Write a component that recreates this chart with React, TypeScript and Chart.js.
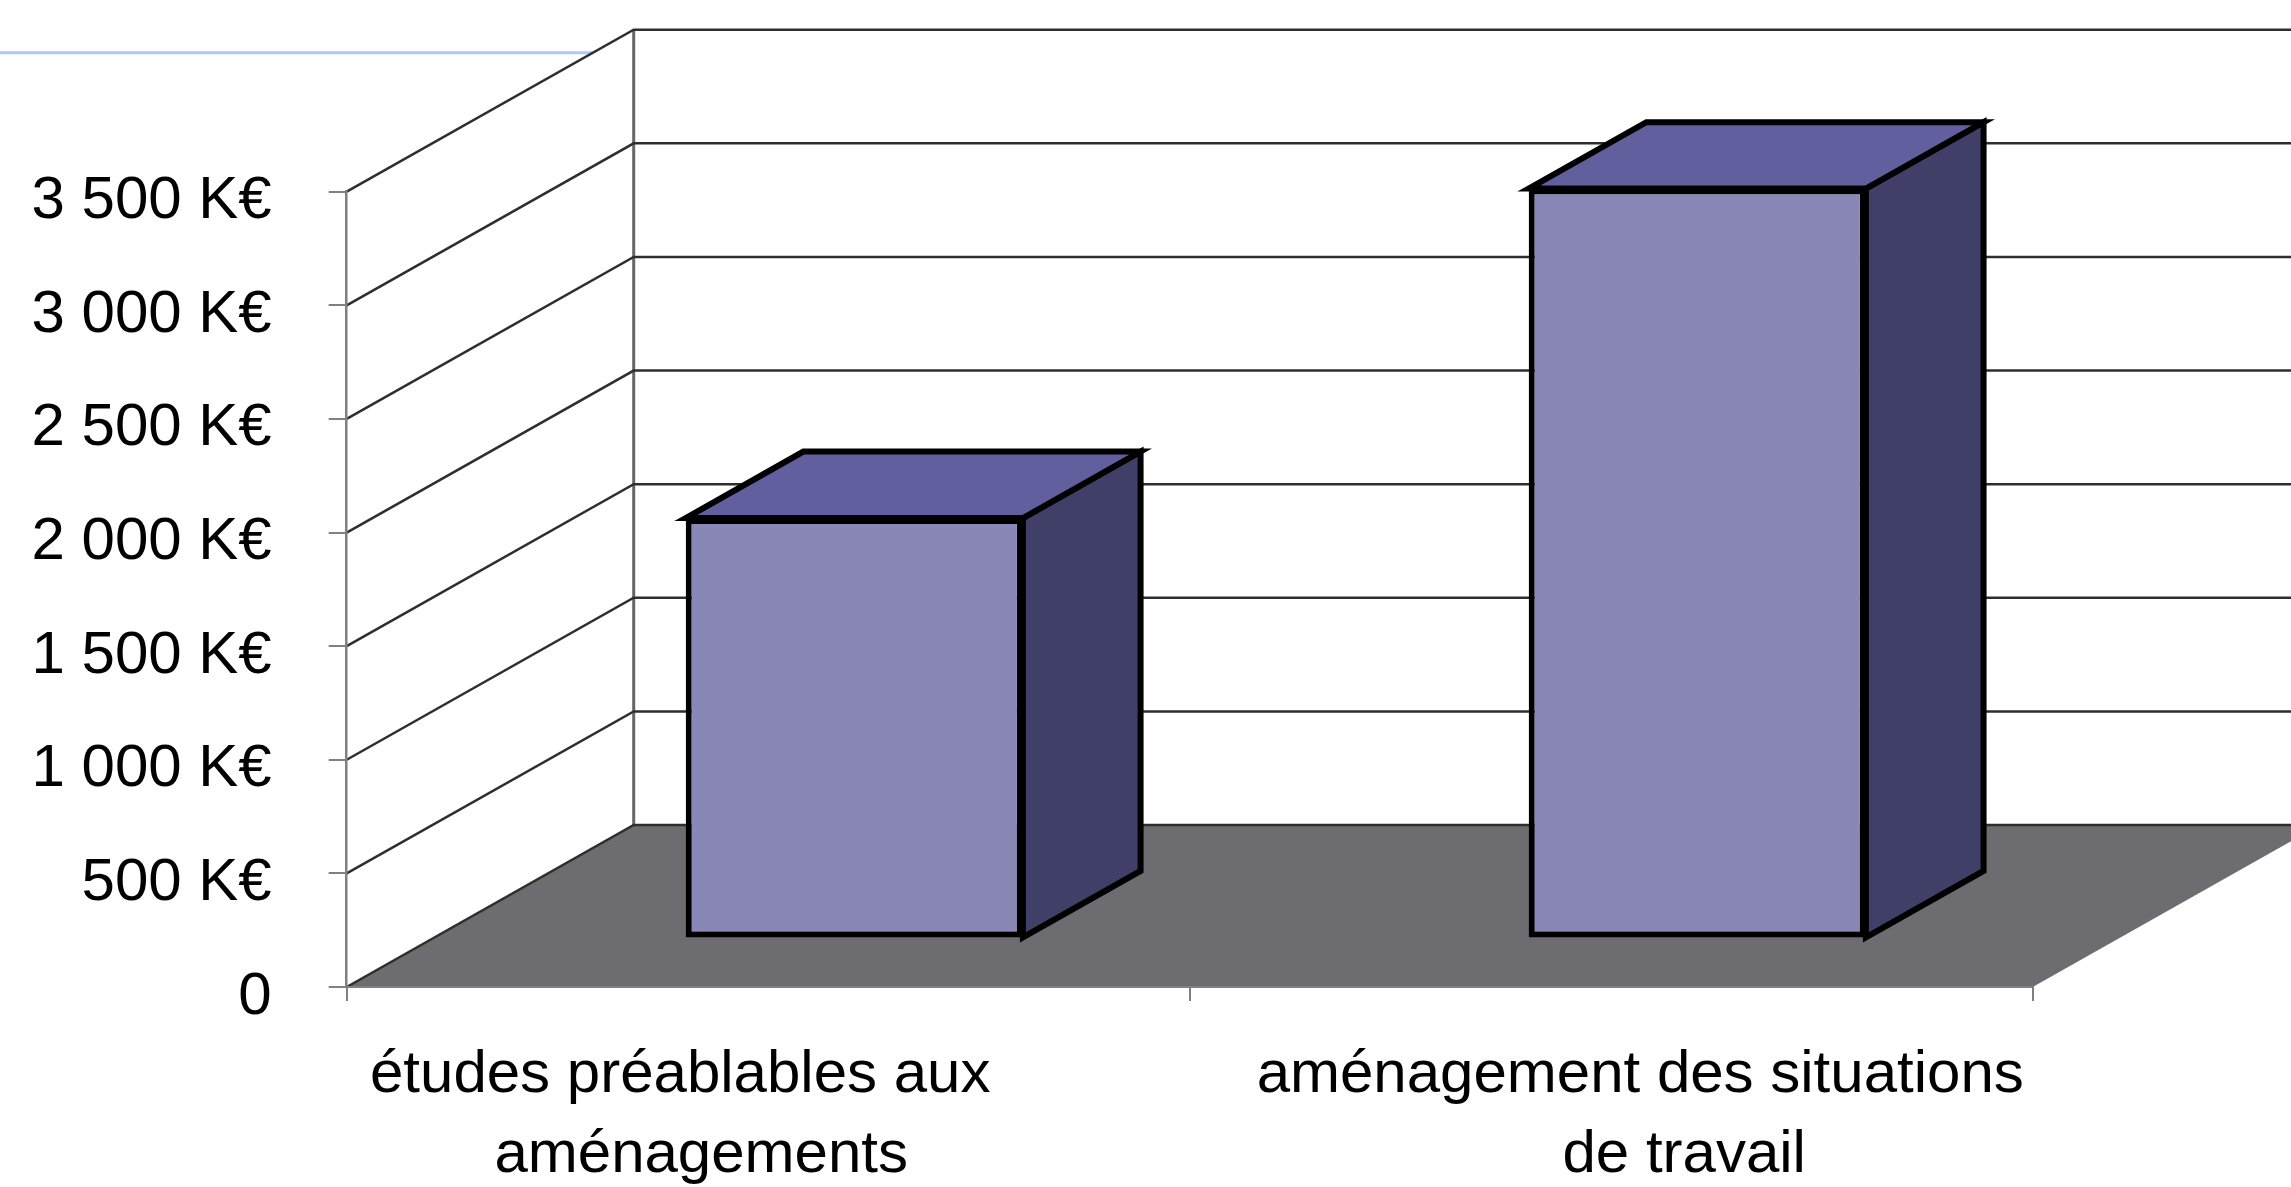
import React, { useEffect, useRef } from "react";
import { Chart, registerables } from "chart.js";

Chart.register(...registerables);

// ---------- data ----------
const CATEGORY_LINES: string[][] = [
  ["études préablables aux", "aménagements"],
  ["aménagement des situations", "de travail"],
];
const BUDGET_VALUES: number[] = [1850, 3300];
const Y_MIN = 0;
const Y_MAX = 3500;
const Y_STEP = 500;
const UNIT = "K€";

// ---------- style ----------
const CANVAS_W = 2291;
const CANVAS_H = 1187;
const FONT_FAMILY = '"Liberation Sans", Arial, sans-serif';
const FONT_SIZE = 60;
const DEPTH_DX = 287;
const DEPTH_DY = -162;
const BAR_FRONT = 0.3;
const BAR_BACK = 0.71;
const LABEL_NUDGE = [
  [-88, -67],
  [29, 73],
];
const LABEL_BASELINES = [105, 185];
const COLOR_FRONT = "#8987b6";
const COLOR_SIDE = "#3f3f68";
const COLOR_TOP = "#625f9e";
const COLOR_FLOOR = "#6c6c71";
const COLOR_GRID = "#2e2e2e";
const COLOR_AXIS = "#808080";
const BLUE_LINE_Y = 52.7;

function formatK(v: number): string {
  if (v === 0) return "0";
  const s = String(v).replace(/\B(?=(\d{3})+(?!\d))/g, " ");
  return s + " " + UNIT;
}

const threeDPlugin = {
  id: "threeD",
  beforeDraw(chart: any) {
    const { ctx, chartArea, scales } = chart;
    const y = scales.y;
    const L = chartArea.left;
    const R = chartArea.right;
    const B = y.getPixelForValue(Y_MIN);
    const T = y.getPixelForValue(Y_MAX);
    const W = chart.width;
    ctx.save();
    // light blue slide line behind the chart
    const t = (T - BLUE_LINE_Y) / -DEPTH_DY;
    ctx.strokeStyle = "#a9cdf2";
    ctx.lineWidth = 3;
    ctx.beginPath();
    ctx.moveTo(0, BLUE_LINE_Y);
    ctx.lineTo(L + t * DEPTH_DX, BLUE_LINE_Y);
    ctx.stroke();
    // floor
    ctx.fillStyle = COLOR_FLOOR;
    ctx.beginPath();
    ctx.moveTo(L, B);
    ctx.lineTo(R, B);
    ctx.lineTo(R + DEPTH_DX, B + DEPTH_DY);
    ctx.lineTo(L + DEPTH_DX, B + DEPTH_DY);
    ctx.closePath();
    ctx.fill();
    // back wall corner
    ctx.strokeStyle = "#666666";
    ctx.lineWidth = 3;
    ctx.beginPath();
    ctx.moveTo(L + DEPTH_DX, T + DEPTH_DY);
    ctx.lineTo(L + DEPTH_DX, B + DEPTH_DY);
    ctx.stroke();
    // wall gridlines
    ctx.strokeStyle = COLOR_GRID;
    ctx.lineWidth = 2.5;
    ctx.lineJoin = "miter";
    y.ticks.forEach((tk: any) => {
      const py = y.getPixelForValue(tk.value);
      ctx.beginPath();
      ctx.moveTo(L, py);
      ctx.lineTo(L + DEPTH_DX, py + DEPTH_DY);
      ctx.lineTo(W, py + DEPTH_DY);
      ctx.stroke();
    });
    ctx.restore();
  },
  beforeDatasetsDraw(chart: any) {
    chart.ctx.save();
    chart.ctx.translate(DEPTH_DX * BAR_FRONT, DEPTH_DY * BAR_FRONT);
  },
  afterDatasetsDraw(chart: any) {
    const ctx = chart.ctx;
    ctx.restore();
    const fx = DEPTH_DX * BAR_FRONT;
    const fy = DEPTH_DY * BAR_FRONT;
    const bdx = DEPTH_DX * (BAR_BACK - BAR_FRONT);
    const bdy = DEPTH_DY * (BAR_BACK - BAR_FRONT);
    const meta = chart.getDatasetMeta(0);
    ctx.save();
    ctx.lineWidth = 6;
    ctx.strokeStyle = "#000";
    ctx.lineJoin = "miter";
    meta.data.forEach((el: any) => {
      const { x, y, base, width } = el.getProps(["x", "y", "base", "width"], true);
      const xl = x - width / 2 + fx;
      const xr = x + width / 2 + fx;
      const yt = y + fy;
      const yb = base + fy;
      ctx.fillStyle = COLOR_SIDE;
      ctx.beginPath();
      ctx.moveTo(xr, yt);
      ctx.lineTo(xr + bdx, yt + bdy);
      ctx.lineTo(xr + bdx, yb + bdy);
      ctx.lineTo(xr, yb);
      ctx.closePath();
      ctx.fill();
      ctx.stroke();
      ctx.fillStyle = COLOR_TOP;
      ctx.beginPath();
      ctx.moveTo(xl, yt);
      ctx.lineTo(xl + bdx, yt + bdy);
      ctx.lineTo(xr + bdx, yt + bdy);
      ctx.lineTo(xr, yt);
      ctx.closePath();
      ctx.fill();
      ctx.stroke();
    });
    ctx.restore();
  },
  afterDraw(chart: any) {
    const { ctx, scales } = chart;
    const xs = scales.x;
    const B = scales.y.getPixelForValue(Y_MIN);
    ctx.save();
    ctx.fillStyle = "#000";
    ctx.font = `${FONT_SIZE}px ${FONT_FAMILY}`;
    ctx.textAlign = "center";
    ctx.textBaseline = "alphabetic";
    CATEGORY_LINES.forEach((lines, i) => {
      const cx = xs.getPixelForValue(i);
      lines.forEach((line, j) => {
        ctx.fillText(line, cx + LABEL_NUDGE[i][j], B + LABEL_BASELINES[j]);
      });
    });
    ctx.restore();
  },
};

export default function App() {
  const canvasRef = useRef<HTMLCanvasElement | null>(null);

  useEffect(() => {
    const canvas = canvasRef.current;
    if (!canvas) return;
    const chart = new Chart(canvas, {
      type: "bar",
      data: {
        labels: CATEGORY_LINES.map((l) => l.join(" ")),
        datasets: [
          {
            data: BUDGET_VALUES,
            backgroundColor: COLOR_FRONT,
            borderColor: "#000",
            borderWidth: 6,
            borderSkipped: false,
            barPercentage: 0.4,
            categoryPercentage: 1,
          },
        ],
      },
      options: {
        responsive: false,
        animation: false,
        devicePixelRatio: 1,
        layout: { padding: { top: 191.7, right: 258.3, left: 0, bottom: 0 } },
        plugins: {
          legend: { display: false },
          tooltip: { enabled: false },
          title: { display: false },
        },
        scales: {
          x: {
            type: "category",
            offset: true,
            afterFit: (scale: any) => {
              scale.height = 200;
            },
            grid: {
              offset: true,
              drawOnChartArea: false,
              drawTicks: true,
              tickLength: 14,
              color: COLOR_AXIS,
              lineWidth: 2,
            },
            border: { display: true, color: COLOR_AXIS, width: 2 },
            ticks: { display: false },
          },
          y: {
            min: Y_MIN,
            max: Y_MAX,
            afterFit: (scale: any) => {
              scale.width = 346.7;
            },
            grid: {
              drawOnChartArea: false,
              drawTicks: true,
              tickLength: 18,
              color: COLOR_AXIS,
              lineWidth: 2,
            },
            border: { display: true, color: COLOR_AXIS, width: 2.5 },
            ticks: {
              stepSize: Y_STEP,
              padding: 57,
              labelOffset: 10,
              color: "#000",
              font: { family: FONT_FAMILY, size: FONT_SIZE },
              callback: (v: any) => formatK(Number(v)),
            },
          },
        },
      },
      plugins: [threeDPlugin],
    } as any);
    return () => chart.destroy();
  }, []);

  return (
    <div style={{ position: "absolute", left: 0, top: 0, width: CANVAS_W, height: CANVAS_H, background: "#fff" }}>
      <canvas ref={canvasRef} width={CANVAS_W} height={CANVAS_H} style={{ display: "block" }} />
    </div>
  );
}
